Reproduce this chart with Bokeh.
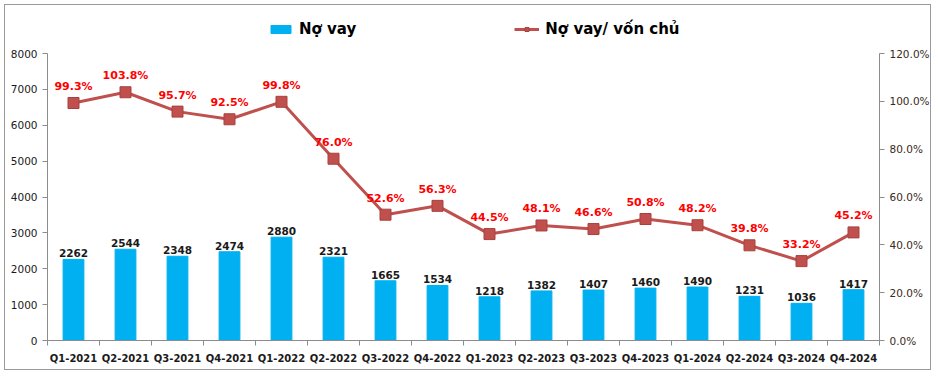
from bokeh.plotting import figure
from bokeh.models import (ColumnDataSource, Range1d, LinearAxis, FixedTicker,
                          NumeralTickFormatter, Legend, LegendItem, LabelSet)
from bokeh.core.properties import value
from bokeh.embed import file_html
from bokeh.resources import INLINE

quarters = ["Q1-2021", "Q2-2021", "Q3-2021", "Q4-2021", "Q1-2022", "Q2-2022",
            "Q3-2022", "Q4-2022", "Q1-2023", "Q2-2023", "Q3-2023", "Q4-2023",
            "Q1-2024", "Q2-2024", "Q3-2024", "Q4-2024"]
no_vay = [2262, 2544, 2348, 2474, 2880, 2321, 1665, 1534, 1218, 1382, 1407,
          1460, 1490, 1231, 1036, 1417]
ratio_pct = [99.3, 103.8, 95.7, 92.5, 99.8, 76.0, 52.6, 56.3, 44.5, 48.1, 46.6,
             50.8, 48.2, 39.8, 33.2, 45.2]
left_ticks = [0, 1000, 2000, 3000, 4000, 5000, 6000, 7000, 8000]
right_ticks = [0, 0.2, 0.4, 0.6, 0.8, 1.0, 1.2]

xs = list(range(len(quarters)))
src = ColumnDataSource(dict(
    x=xs, q=quarters, v=no_vay, vt=[str(v) for v in no_vay],
    r=[p / 100 for p in ratio_pct], rt=["%.1f%%" % p for p in ratio_pct],
))

FONT = "DejaVu Sans"
W, H = 927, 366
TOP, BOTTOM, LEFT, RIGHT = 10, 31, 42, 50
frame_h = H - TOP - BOTTOM          # frame incl. legend strip
axis_h = frame_h - 38               # part of frame covered by the axes
stretch = frame_h / axis_h

p = figure(width=W, height=H, output_backend="svg", toolbar_location=None,
           x_range=Range1d(-0.5, len(quarters) - 0.5),
           y_range=Range1d(0, left_ticks[-1] * stretch),
           min_border_left=LEFT, min_border_right=RIGHT, min_border_top=TOP,
           min_border_bottom=BOTTOM)
p.styles = {"border": "1px solid #9a9a9a", "margin-left": "4px", "margin-top": "4px"}
p.outline_line_color = None
p.xgrid.visible = False
p.ygrid.visible = False
p.extra_y_ranges = {"r": Range1d(0, right_ticks[-1] * stretch)}

bars = p.vbar(x="x", top="v", width=0.4, source=src, color="#00B0F0")
line = p.line(x="x", y="r", source=src, y_range_name="r", line_color="#C0504D",
              line_width=3)
marks = p.scatter(x="x", y="r", source=src, y_range_name="r", marker="square",
                  size=11, fill_color="#C0504D", line_color="#A9403D")

p.add_layout(LabelSet(x="x", y="v", text="vt", source=src, text_align="center",
                      text_baseline="bottom", y_offset=2, text_font=value(FONT),
                      text_font_style="bold", text_font_size="10.5px",
                      text_color="#1a1a1a"))
p.add_layout(LabelSet(x="x", y="r", text="rt", source=src, y_range_name="r",
                      text_align="center", text_baseline="bottom", y_offset=10,
                      text_font=value(FONT), text_font_style="bold",
                      text_font_size="11px", text_color="#FF0000"))

# axes
xa = p.xaxis[0]
xa.ticker = FixedTicker(ticks=xs, minor_ticks=[i - 0.5 for i in range(len(quarters) + 1)])
xa.major_label_overrides = {i: q for i, q in enumerate(quarters)}
xa.major_tick_line_color = None
xa.minor_tick_in = 0
xa.minor_tick_out = 5
xa.minor_tick_line_color = "#8c8c8c"
xa.axis_line_color = "#8c8c8c"
xa.major_label_text_font = FONT
xa.major_label_text_font_style = "bold"
xa.major_label_text_font_size = "10px"
xa.major_label_text_color = "#1a1a1a"
xa.major_label_standoff = 6

ya = p.yaxis[0]
ya.ticker = FixedTicker(ticks=left_ticks, minor_ticks=[])
ya.bounds = (left_ticks[0], left_ticks[-1])
ya.axis_line_color = "#8c8c8c"
ya.major_tick_line_color = "#8c8c8c"
ya.major_tick_in = 0
ya.major_tick_out = 5
ya.major_label_text_font = FONT
ya.major_label_text_font_size = "10.5px"
ya.major_label_text_color = "#1a1a1a"

ra = LinearAxis(y_range_name="r", ticker=FixedTicker(ticks=right_ticks, minor_ticks=[]),
                formatter=NumeralTickFormatter(format="0.0%"),
                bounds=(right_ticks[0], right_ticks[-1]))
ra.axis_line_color = "#8c8c8c"
ra.major_tick_line_color = "#8c8c8c"
ra.major_tick_in = 0
ra.major_tick_out = 5
ra.major_label_text_font = FONT
ra.major_label_text_font_size = "10.5px"
ra.major_label_text_color = "#3a2a1a"
p.add_layout(ra, "right")

legend = Legend(items=[LegendItem(label="Nợ vay", renderers=[bars]),
                       LegendItem(label="Nợ vay/ vốn chủ", renderers=[line, marks])],
                orientation="horizontal", location=(221, frame_h - 24),
                spacing=158, glyph_width=25, glyph_height=10, padding=0, margin=0,
                label_standoff=6, label_height=20,
                label_text_font=FONT, label_text_font_style="bold",
                label_text_font_size="15px", label_text_color="#000000",
                border_line_color=None, background_fill_alpha=0)
p.add_layout(legend, "center")

open("out.html", "w").write(file_html(p, INLINE))
